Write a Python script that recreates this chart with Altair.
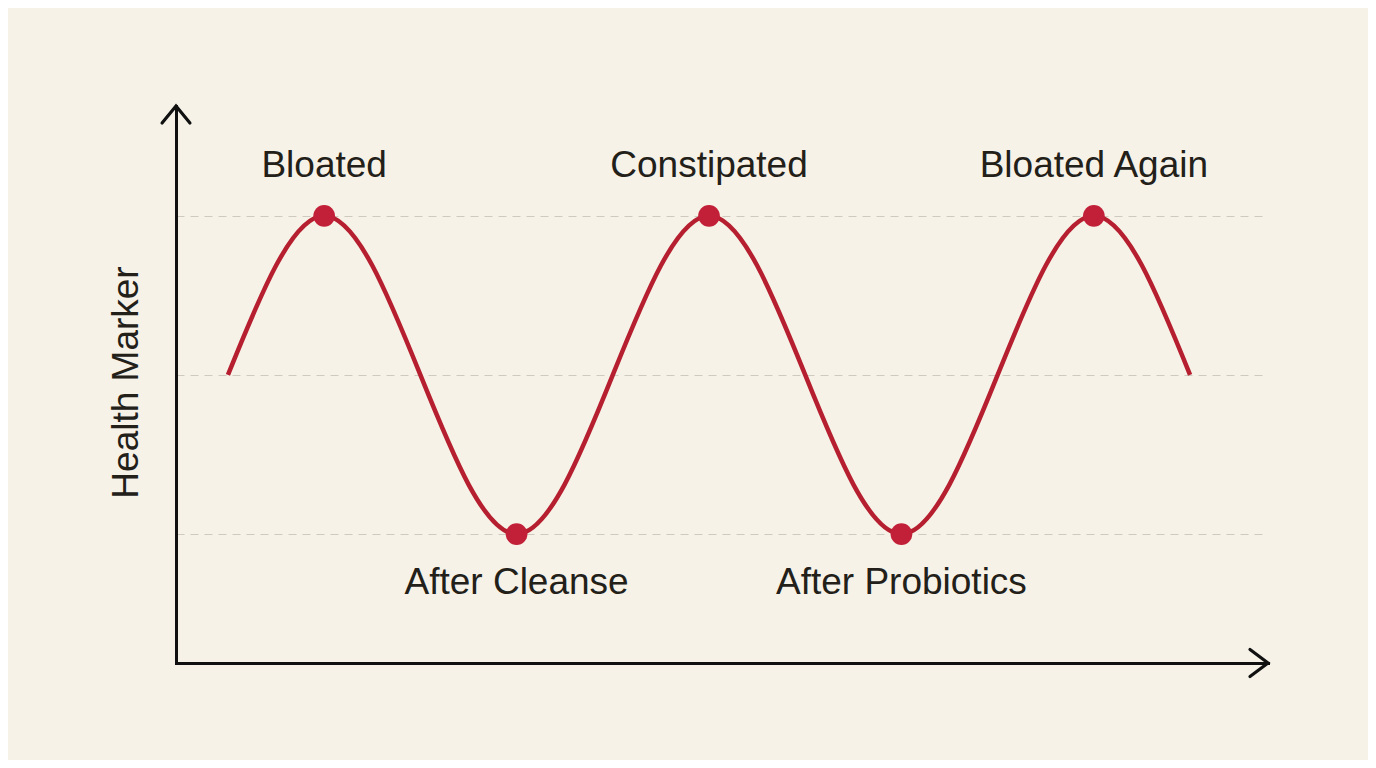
import altair as alt
import pandas as pd

# key points of the wave, x in quarter-cycles
wave_x = [0, 1, 2, 3, 4, 5, 6, 7, 8, 9, 10]
wave_y = [0, 1, 0, -1, 0, 1, 0, -1, 0, 1, 0]

stage_x = [1, 3, 5, 7, 9]
stage_y = [1, -1, 1, -1, 1]
stage_names = ["Bloated", "After Cleanse", "Constipated", "After Probiotics", "Bloated Again"]
stage_side = ["top", "bottom", "top", "bottom", "top"]

x_domain = [-0.54, 10.81]
y_domain = [-1.81, 1.69]
grid_levels = [-1, 0, 1]

FONT = "Liberation Sans"
RED_LINE = "#b61f2f"
RED_DOT = "#c21f38"
INK = "#222019"

wave = pd.DataFrame({"x": wave_x, "y": wave_y})
stages = pd.DataFrame({"x": stage_x, "y": stage_y, "name": stage_names, "side": stage_side})
arrows = pd.DataFrame({
    "x": [x_domain[1], x_domain[0]],
    "y": [y_domain[0], y_domain[1]],
    "dir": ["right", "up"],
})

xs = alt.Scale(domain=x_domain, nice=False, zero=False)
ys = alt.Scale(domain=y_domain, nice=False, zero=False)

x_axis = alt.Axis(title=None, labels=False, ticks=False, grid=False,
                  domainColor="#111111", domainWidth=3, domainCap="square")
y_axis = alt.Axis(title="Health Marker", labels=False, ticks=False,
                  values=grid_levels, grid=True, gridColor="#cfcabf",
                  gridDash=[8, 6], gridWidth=1,
                  domainColor="#111111", domainWidth=3, domainCap="square",
                  titleFont=FONT, titleFontSize=37, titleFontWeight="normal",
                  titleColor=INK, titleAngle=270, titleAlign="center",
                  titleBaseline="middle", titleX=-50, titleY=276)

base_axes = alt.Chart(wave).mark_line(opacity=0).encode(
    x=alt.X("x:Q", scale=xs, axis=x_axis),
    y=alt.Y("y:Q", scale=ys, axis=y_axis),
)

curve = alt.Chart(wave).mark_line(
    interpolate="natural", color=RED_LINE, strokeWidth=4.5
).encode(x=alt.X("x:Q", scale=xs), y=alt.Y("y:Q", scale=ys))

dots = alt.Chart(stages).mark_circle(
    size=470, color=RED_DOT, opacity=1
).encode(x=alt.X("x:Q", scale=xs), y=alt.Y("y:Q", scale=ys))

labels_top = alt.Chart(stages).mark_text(
    font=FONT, fontSize=37, color=INK, dy=-50, baseline="middle"
).encode(
    x=alt.X("x:Q", scale=xs), y=alt.Y("y:Q", scale=ys), text="name:N"
).transform_filter(alt.datum.side == "top")

labels_bottom = alt.Chart(stages).mark_text(
    font=FONT, fontSize=37, color=INK, dy=49, baseline="middle"
).encode(
    x=alt.X("x:Q", scale=xs), y=alt.Y("y:Q", scale=ys), text="name:N"
).transform_filter(alt.datum.side == "bottom")

arrow_right = alt.Chart(arrows).mark_point(
    shape="M-1,-0.75L0,0L-1,0.75", size=1296, filled=False,
    stroke="#111111", strokeWidth=3.2, opacity=1, strokeCap="round", strokeJoin="miter"
).encode(x=alt.X("x:Q", scale=xs), y=alt.Y("y:Q", scale=ys)
).transform_filter(alt.datum.dir == "right")

arrow_up = alt.Chart(arrows).mark_point(
    shape="M-0.82,1L0,0L0.82,1", size=1156, filled=False,
    stroke="#111111", strokeWidth=3.2, opacity=1, strokeCap="round", strokeJoin="miter"
).encode(x=alt.X("x:Q", scale=xs), y=alt.Y("y:Q", scale=ys)
).transform_filter(alt.datum.dir == "up")

chart = alt.layer(
    base_axes, curve, dots, labels_top, labels_bottom, arrow_right, arrow_up
).properties(
    width=1092,
    height=557,
    background="#f6f2e7",
    autosize=alt.AutoSizeParams(type="none"),
    padding={"left": 168, "top": 98, "right": 100, "bottom": 97},
).configure_view(stroke=None)

chart.save("out.html", embed_options={"renderer": "svg", "actions": False})
